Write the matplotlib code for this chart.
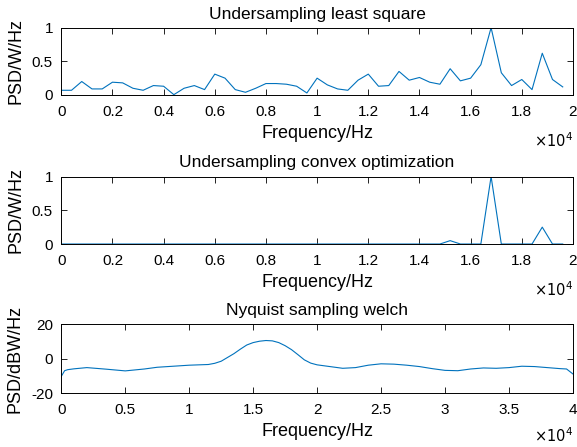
import numpy as np
import matplotlib.pyplot as plt

plt.rcParams['font.family'] = ['Liberation Sans', 'DejaVu Sans']

# frequency grid of the undersampled spectra (Hz)
freq_us = np.arange(0, 19601, 400)

# least square estimate (normalised PSD)
psd_ls = [0.07, 0.07, 0.2, 0.09, 0.09, 0.19, 0.18, 0.1, 0.07, 0.14,
          0.13, 0.005, 0.1, 0.14, 0.08, 0.31, 0.25, 0.08, 0.04, 0.1,
          0.17, 0.17, 0.16, 0.13, 0.03, 0.25, 0.15, 0.09, 0.07, 0.22,
          0.31, 0.13, 0.14, 0.35, 0.22, 0.26, 0.19, 0.16, 0.39, 0.21,
          0.25, 0.45, 1.0, 0.33, 0.14, 0.23, 0.08, 0.62, 0.23, 0.12]

# convex optimization estimate (sparse)
psd_cvx = [0.0] * 50
psd_cvx[38] = 0.05
psd_cvx[42] = 1.0
psd_cvx[47] = 0.25

# welch estimate at Nyquist rate (dBW/Hz)
freq_w = [0, 260, 500, 1000, 2000, 3500, 5000, 6500, 7500, 10000, 11500,
          12000, 12500, 13500, 14000, 14500, 15000, 15500, 16000, 16500,
          17000, 17500, 18000, 18500, 19000, 19500, 20000,
          21000, 22000, 23000, 24000, 25000, 26000, 27000, 28000, 29000,
          30000, 31000, 32000, 33000, 34000, 35000, 36000, 37000, 38000,
          39000, 39500, 40000]
psd_w = [-10.2, -6.9, -6.3, -5.8, -5.1, -6.0, -7.0, -5.9, -4.9, -3.7, -3.3,
         -2.6, -1.4, 3.0, 5.6, 8.0, 9.4, 10.2, 10.6, 10.4,
         9.4, 7.6, 5.3, 2.4, -0.6, -2.5, -3.5,
         -4.5, -5.5, -5.1, -3.7, -2.9, -3.1, -3.7, -4.5, -5.7,
         -6.7, -6.9, -5.9, -5.3, -5.5, -5.1, -4.3, -4.5, -5.1,
         -5.7, -5.9, -8.8]

line_color = '#0072BD'

fig = plt.figure(figsize=(5.77, 4.47), dpi=100)
left, width = 0.1062, 0.8868
boxes = [(0.7875, 0.1506), (0.4541, 0.1510), (0.1201, 0.1544)]


def style_axes(ax, xmax, ylim, yticks, title, ylabel, exp_offset=-46):
    ax.set_xlim(0, xmax)
    ax.set_ylim(*ylim)
    ax.set_yticks(yticks)
    ax.tick_params(direction='in', top=True, right=True, labelsize=11, length=4, width=0.6)
    ax.tick_params(axis='x', pad=7)
    ax.tick_params(axis='y', pad=6)
    for s in ax.spines.values():
        s.set_linewidth(0.7)
    ax.set_title(title, fontsize=12.5, pad=6.5)
    ax.set_xlabel('Frequency/Hz', fontsize=13, labelpad=4.5)
    ax.set_ylabel(ylabel, fontsize=13, labelpad=5)
    ax.annotate(r'$\times10^4$', xy=(1.0, 0.0), xycoords='axes fraction',
                xytext=(0, exp_offset), textcoords='offset pixels',
                ha='right', va='center', fontsize=10.5)


ax1 = fig.add_axes([left, boxes[0][0], width, boxes[0][1]])
ax1.plot(freq_us, psd_ls, color=line_color, lw=0.8)
ax1.set_xticks(np.arange(0, 20001, 2000))
ax1.set_xticklabels(['0', '0.2', '0.4', '0.6', '0.8', '1', '1.2', '1.4', '1.6', '1.8', '2'])
style_axes(ax1, 20000, (0, 1), [0, 0.5, 1], 'Undersampling least square', 'PSD/W/Hz')
ax1.set_yticklabels(['0', '0.5', '1'])

ax2 = fig.add_axes([left, boxes[1][0], width, boxes[1][1]])
ax2.plot(freq_us, psd_cvx, color=line_color, lw=0.8)
ax2.set_xticks(np.arange(0, 20001, 2000))
ax2.set_xticklabels(['0', '0.2', '0.4', '0.6', '0.8', '1', '1.2', '1.4', '1.6', '1.8', '2'])
style_axes(ax2, 20000, (0, 1), [0, 0.5, 1], 'Undersampling convex optimization', 'PSD/W/Hz')
ax2.set_yticklabels(['0', '0.5', '1'])

ax3 = fig.add_axes([left, boxes[2][0], width, boxes[2][1]])
ax3.plot(freq_w, psd_w, color=line_color, lw=0.8)
ax3.set_xticks(np.arange(0, 40001, 5000))
ax3.set_xticklabels(['0', '0.5', '1', '1.5', '2', '2.5', '3', '3.5', '4'])
style_axes(ax3, 40000, (-20, 20), [-20, 0, 20], 'Nyquist sampling welch', 'PSD/dBW/Hz', exp_offset=-42)
ax3.set_yticklabels(['-20', '0', '20'])

fig.savefig('out.png', dpi=100)
